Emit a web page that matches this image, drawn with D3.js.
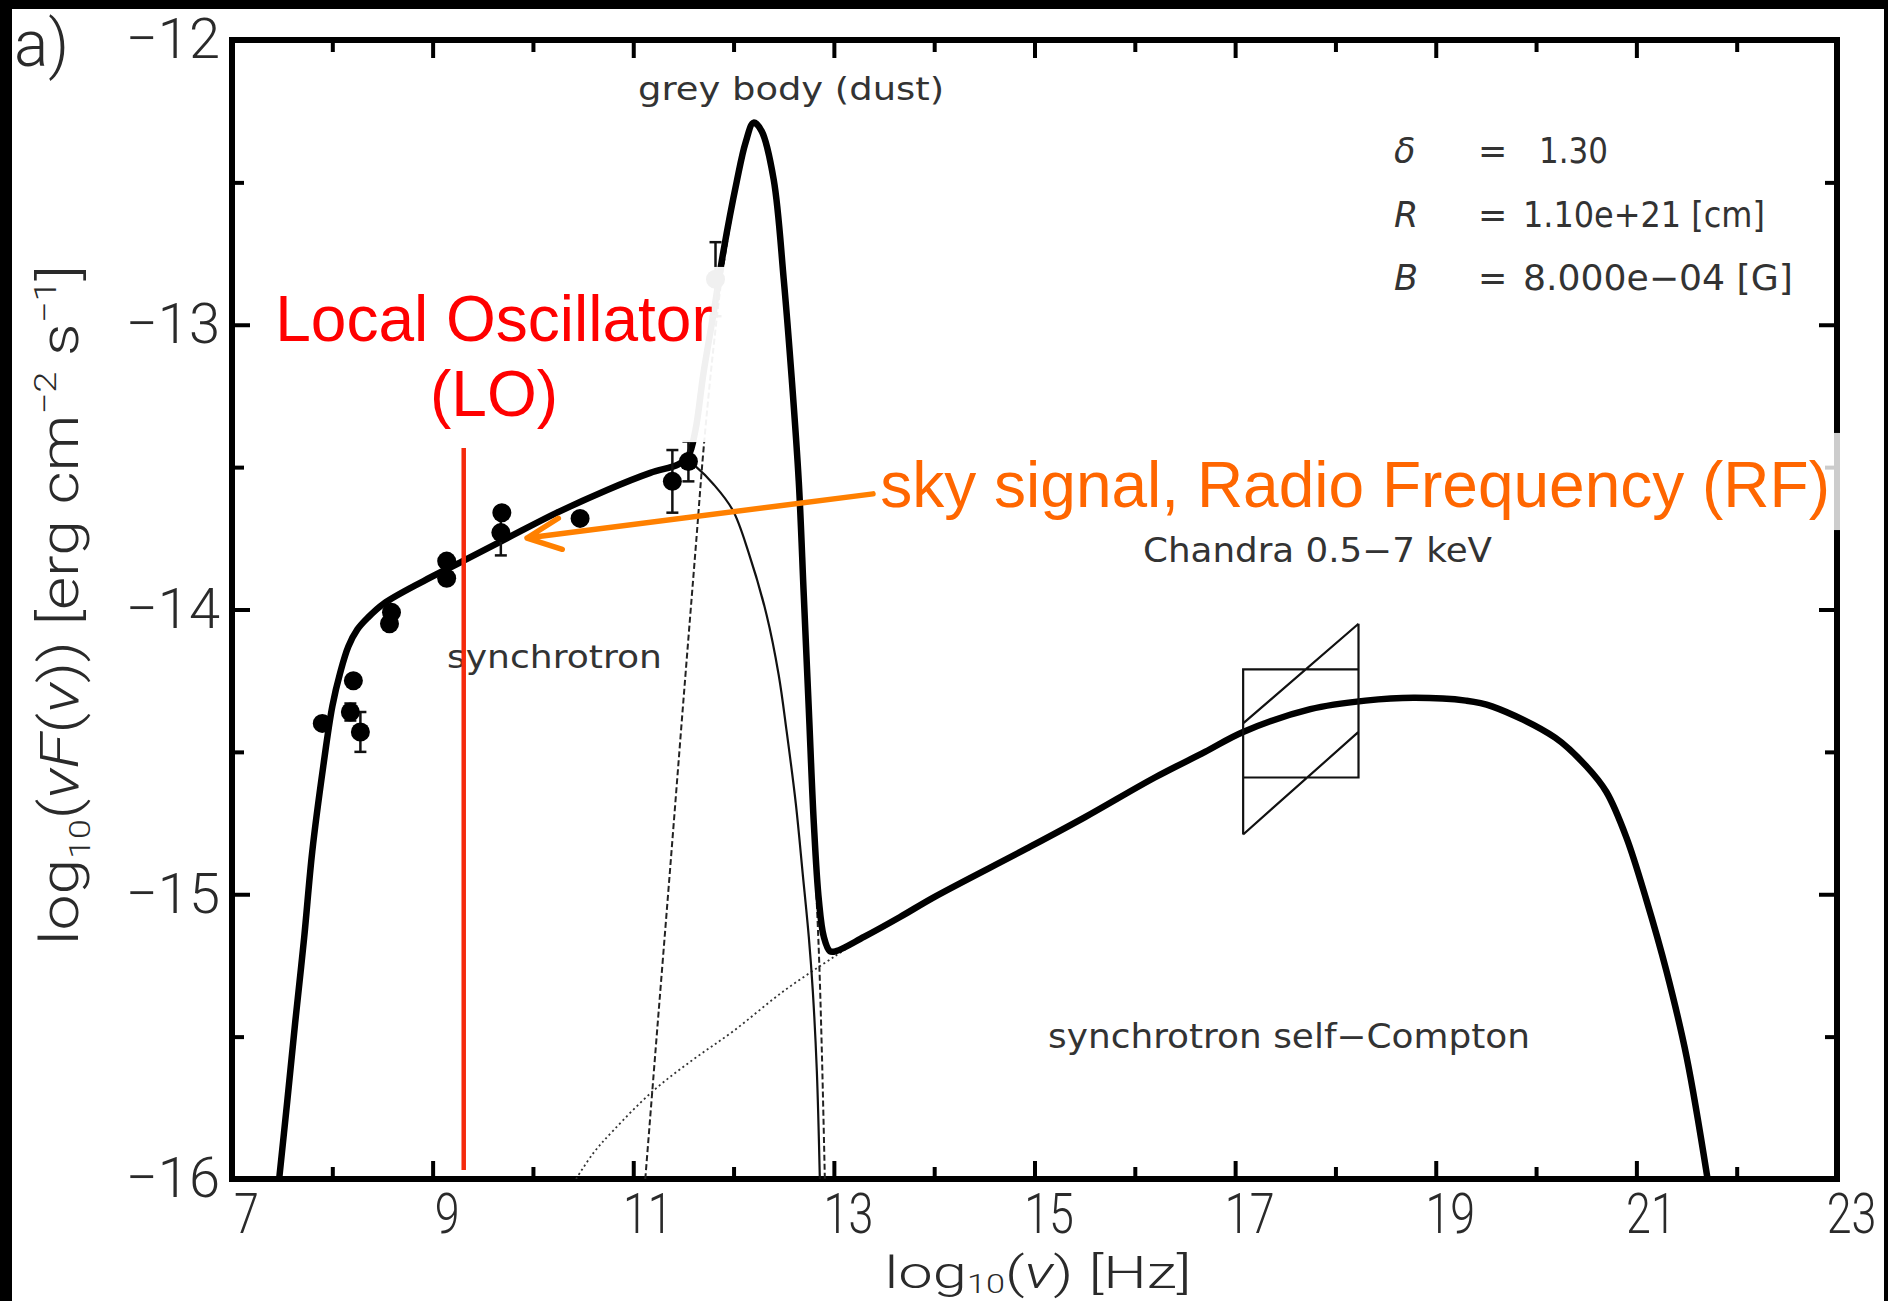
<!DOCTYPE html>
<html>
<head>
<meta charset="utf-8">
<title>SED</title>
<script src="https://cdnjs.cloudflare.com/ajax/libs/d3/7.8.5/d3.min.js"></script>
<style>
    body { margin: 0; background: #fff; }
    .axis text { font-family: Roboto, "Liberation Sans", sans-serif; font-weight: 300; font-size: 56px; fill: #2a2a2a; }
    .axis line { stroke: #000; stroke-width: 4; }
    .axis-title { font-family: Roboto, "Liberation Sans", sans-serif; font-weight: 300; fill: #2a2a2a; }
    .plot-label { font-family: "DejaVu Sans", sans-serif; fill: #333; }
    .slide-label { font-family: "Liberation Sans", Arial, sans-serif; font-size: 64px; }
</style>
</head>
<body>
<div id="sed-chart"></div>
<script>

// total model (thick line): log10(nu) and log10(nu F(nu))
var totalLogNu   = [7.47, 7.55, 7.63, 7.72, 7.80, 7.91, 8.00, 8.08, 8.16, 8.25, 8.35, 8.51, 8.91, 9.30, 9.74, 10.24, 10.74, 11.17, 11.45, 11.55, 11.62, 11.70, 11.80, 11.90, 12.03, 12.12, 12.20, 12.28, 12.40, 12.50, 12.58, 12.65, 12.70, 12.75, 12.80, 12.85, 12.90, 12.96, 13.02, 13.30, 13.66, 14.00, 14.92, 15.50, 16.20, 16.70, 17.08, 17.75, 18.30, 18.78, 19.30, 19.56, 20.19, 20.50, 20.70, 20.90, 21.10, 21.30, 21.50, 21.71];
var totalLogFlux = [-16.00, -15.73, -15.45, -15.15, -14.85, -14.55, -14.34, -14.22, -14.13, -14.07, -14.03, -13.98, -13.90, -13.83, -13.75, -13.66, -13.58, -13.52, -13.49, -13.46, -13.37, -13.17, -12.96, -12.74, -12.50, -12.36, -12.29, -12.32, -12.49, -12.84, -13.19, -13.55, -13.95, -14.35, -14.75, -15.02, -15.15, -15.20, -15.20, -15.15, -15.08, -15.01, -14.84, -14.73, -14.59, -14.50, -14.43, -14.35, -14.32, -14.31, -14.32, -14.34, -14.45, -14.55, -14.64, -14.80, -15.02, -15.27, -15.57, -16.00];

// synchrotron component (thin line)
var synchLogNu   = [7.47, 7.55, 7.63, 7.72, 7.80, 7.91, 8.00, 8.08, 8.16, 8.25, 8.35, 8.51, 8.91, 9.30, 9.74, 10.24, 10.74, 11.17, 11.45, 11.55, 11.63, 11.80, 11.99, 12.15, 12.33, 12.45, 12.53, 12.62, 12.69, 12.75, 12.79, 12.83, 12.86];
var synchLogFlux = [-16.00, -15.73, -15.45, -15.15, -14.85, -14.55, -14.34, -14.22, -14.13, -14.07, -14.03, -13.98, -13.90, -13.83, -13.75, -13.66, -13.58, -13.52, -13.49, -13.48, -13.50, -13.56, -13.65, -13.80, -14.02, -14.23, -14.43, -14.68, -14.93, -15.15, -15.34, -15.62, -16.00];

// grey body (dust) component (dashed)
var dustLogNu   = [11.12, 11.24, 11.37, 11.50, 11.63, 11.70, 11.80, 11.90, 12.03, 12.12, 12.20, 12.28, 12.40, 12.50, 12.58, 12.65, 12.70, 12.75, 12.80, 12.85, 12.88, 12.91];
var dustLogFlux = [-16.00, -15.47, -14.90, -14.32, -13.75, -13.44, -13.08, -12.79, -12.52, -12.37, -12.30, -12.33, -12.50, -12.85, -13.20, -13.56, -13.96, -14.37, -14.80, -15.20, -15.55, -16.00];

// synchrotron self-Compton component (dotted)
var sscLogNu   = [10.43, 10.60, 10.80, 11.20, 11.60, 12.00, 12.50, 13.00, 13.30];
var sscLogFlux = [-16.00, -15.91, -15.83, -15.69, -15.58, -15.48, -15.34, -15.22, -15.15];

// observed fluxes, with error (0 = no visible bar)
var obsLogNu   = [7.90, 8.18, 8.21, 8.28, 8.57, 8.59, 9.14, 9.14, 9.69, 9.68, 10.47, 11.39, 11.55, 11.82];
var obsLogFlux = [-14.40, -14.36, -14.25, -14.43, -14.05, -14.01, -13.83, -13.89, -13.66, -13.73, -13.68, -13.55, -13.48, -12.84];
var obsErr     = [0, 0.03, 0, 0.07, 0, 0, 0, 0, 0, 0.08, 0, 0.11, 0.07, 0.13];

// Chandra 0.5-7 keV bow tie
var chandraLogNu     = [17.08, 18.23];
var chandraBoxFlux   = [-14.59, -14.21];
var chandraUpperFlux = [-14.40, -14.05];
var chandraLowerFlux = [-14.79, -14.43];

// local oscillator frequency
var loLogNu = 9.31;

// ticks
var xMajorTicks = [7, 9, 11, 13, 15, 17, 19, 21, 23];
var xMinorTicks = [8, 10, 12, 14, 16, 18, 20, 22];
var yMajorTicks = [-16, -15, -14, -13, -12];
var yMinorTicks = [-15.5, -14.5, -13.5, -12.5];

var modelParams = [
    { sym: "δ", val: "1.30" },
    { sym: "R", val: "1.10e+21 [cm]" },
    { sym: "B", val: "8.000e−04 [G]" }
];


/*
 * SedChart - spectral energy distribution with slide annotations
 */

SedChart = function(_parentElement){
    this.parentElement = _parentElement;
    this.initVis();
}

SedChart.prototype.initVis = function(){
    var vis = this;

    vis.margin = { top: 40, right: 51, bottom: 122, left: 232 };
    vis.width = 1888 - vis.margin.left - vis.margin.right;
    vis.height = 1301 - vis.margin.top - vis.margin.bottom;

    vis.root = d3.select("#" + vis.parentElement).append("svg")
        .attr("width", 1888)
        .attr("height", 1301);

    // black edges of the screenshot
    vis.root.append("rect").attr("x", 0).attr("y", 0).attr("width", 1888).attr("height", 9);
    vis.root.append("rect").attr("x", 0).attr("y", 0).attr("width", 12).attr("height", 1301);
    vis.root.append("rect").attr("x", 1884).attr("y", 0).attr("width", 4).attr("height", 1301);

    vis.svg = vis.root.append("g")
        .attr("transform", "translate(" + vis.margin.left + "," + vis.margin.top + ")");

    vis.svg.append("defs").append("clipPath")
        .attr("id", "clip")
        .append("rect")
        .attr("width", vis.width)
        .attr("height", vis.height);

    vis.x = d3.scaleLinear().domain([7, 23]).range([0, vis.width]);
    vis.y = d3.scaleLinear().domain([-16, -12]).range([vis.height, 0]);

    vis.line = d3.line()
        .x(d => vis.x(d[0]))
        .y(d => vis.y(d[1]))
        .curve(d3.curveCatmullRom.alpha(0.5));

    vis.updateVis();
}

SedChart.prototype.updateVis = function(){
    var vis = this;

    var noDomain = g => g.select(".domain").remove();

    // Axes (ticks point inwards on all four sides)
    vis.svg.append("g")
        .attr("class", "axis x-axis")
        .attr("transform", "translate(0," + vis.height + ")")
        .call(d3.axisBottom(vis.x).tickValues(xMajorTicks).tickSize(-18).tickSizeOuter(0)
            .tickPadding(14).tickFormat(d3.format("d")))
        .call(noDomain);
    vis.svg.append("g")
        .attr("class", "axis")
        .attr("transform", "translate(0," + vis.height + ")")
        .call(d3.axisBottom(vis.x).tickValues(xMinorTicks).tickSize(-12).tickSizeOuter(0).tickFormat(""))
        .call(noDomain);
    vis.svg.append("g")
        .attr("class", "axis")
        .call(d3.axisTop(vis.x).tickValues(xMajorTicks).tickSize(-18).tickSizeOuter(0).tickFormat(""))
        .call(noDomain);
    vis.svg.append("g")
        .attr("class", "axis")
        .call(d3.axisTop(vis.x).tickValues(xMinorTicks).tickSize(-12).tickSizeOuter(0).tickFormat(""))
        .call(noDomain);

    vis.svg.append("g")
        .attr("class", "axis y-axis")
        .call(d3.axisLeft(vis.y).tickValues(yMajorTicks).tickSize(-18).tickSizeOuter(0)
            .tickPadding(12).tickFormat(d3.format("d")))
        .call(noDomain);
    vis.svg.append("g")
        .attr("class", "axis")
        .call(d3.axisLeft(vis.y).tickValues(yMinorTicks).tickSize(-12).tickSizeOuter(0).tickFormat(""))
        .call(noDomain);
    vis.svg.append("g")
        .attr("class", "axis")
        .attr("transform", "translate(" + vis.width + ",0)")
        .call(d3.axisRight(vis.y).tickValues(yMajorTicks).tickSize(-18).tickSizeOuter(0).tickFormat(""))
        .call(noDomain);
    vis.svg.append("g")
        .attr("class", "axis")
        .attr("transform", "translate(" + vis.width + ",0)")
        .call(d3.axisRight(vis.y).tickValues(yMinorTicks).tickSize(-12).tickSizeOuter(0).tickFormat(""))
        .call(noDomain);

    // narrower digits on the x axis, labels sit a bit right of the tick
    vis.svg.selectAll(".x-axis text")
        .attr("dx", 14)
        .each(function(){
            var w = this.getComputedTextLength();
            d3.select(this).attr("textLength", w * 0.8).attr("lengthAdjust", "spacingAndGlyphs");
        });

    vis.svg.append("rect")
        .attr("width", vis.width)
        .attr("height", vis.height)
        .attr("fill", "none")
        .attr("stroke", "#000")
        .attr("stroke-width", 6);

    // Model curves
    var curves = vis.svg.append("g").attr("clip-path", "url(#clip)");

    curves.append("path")
        .datum(d3.zip(sscLogNu, sscLogFlux))
        .attr("d", vis.line)
        .attr("fill", "none").attr("stroke", "#333").attr("stroke-width", 1.8)
        .attr("stroke-dasharray", "2,3");

    curves.append("path")
        .datum(d3.zip(dustLogNu, dustLogFlux))
        .attr("d", vis.line)
        .attr("fill", "none").attr("stroke", "#222").attr("stroke-width", 2)
        .attr("stroke-dasharray", "6,3");

    curves.append("path")
        .datum(d3.zip(synchLogNu, synchLogFlux))
        .attr("d", vis.line)
        .attr("fill", "none").attr("stroke", "#111").attr("stroke-width", 2.2);

    curves.append("path")
        .datum(d3.zip(totalLogNu, totalLogFlux))
        .attr("d", vis.line)
        .attr("fill", "none").attr("stroke", "#000").attr("stroke-width", 6.5)
        .attr("stroke-linejoin", "round");

    // Observations
    var obs = d3.range(obsLogNu.length).map(i => ({ nu: obsLogNu[i], f: obsLogFlux[i], e: obsErr[i] }));
    var withErr = obs.filter(d => d.e > 0);

    vis.svg.selectAll(".err-bar")
        .data(withErr)
        .enter().append("line")
        .attr("class", "err-bar")
        .attr("x1", d => vis.x(d.nu)).attr("x2", d => vis.x(d.nu))
        .attr("y1", d => vis.y(d.f - d.e)).attr("y2", d => vis.y(d.f + d.e))
        .attr("stroke", "#111").attr("stroke-width", 2.5);

    [-1, 1].forEach(function(s){
        vis.svg.selectAll(".err-cap" + s)
            .data(withErr)
            .enter().append("line")
            .attr("x1", d => vis.x(d.nu) - 6).attr("x2", d => vis.x(d.nu) + 6)
            .attr("y1", d => vis.y(d.f + s * d.e)).attr("y2", d => vis.y(d.f + s * d.e))
            .attr("stroke", "#111").attr("stroke-width", 2.5);
    });

    vis.svg.selectAll(".obs")
        .data(obs)
        .enter().append("circle")
        .attr("class", "obs")
        .attr("cx", d => vis.x(d.nu))
        .attr("cy", d => vis.y(d.f))
        .attr("r", 9.5)
        .attr("fill", "#000");

    // Chandra bow tie
    var cx0 = vis.x(chandraLogNu[0]), cx1 = vis.x(chandraLogNu[1]);
    var tie = d3.path();
    tie.rect(cx0, vis.y(chandraBoxFlux[1]), cx1 - cx0, vis.y(chandraBoxFlux[0]) - vis.y(chandraBoxFlux[1]));
    tie.moveTo(cx0, vis.y(chandraUpperFlux[0])); tie.lineTo(cx1, vis.y(chandraUpperFlux[1]));
    tie.moveTo(cx0, vis.y(chandraLowerFlux[0])); tie.lineTo(cx1, vis.y(chandraLowerFlux[1]));
    tie.moveTo(cx0, vis.y(chandraBoxFlux[1])); tie.lineTo(cx0, vis.y(chandraLowerFlux[0]));
    tie.moveTo(cx1, vis.y(chandraUpperFlux[1])); tie.lineTo(cx1, vis.y(chandraBoxFlux[0]));
    vis.svg.append("path")
        .attr("d", tie.toString())
        .attr("fill", "none").attr("stroke", "#111").attr("stroke-width", 2.2);

    // Labels inside the plot
    var label = function(txt, nu, f, len, size, anchor){
        return vis.svg.append("text")
            .attr("class", "plot-label")
            .attr("x", vis.x(nu)).attr("y", vis.y(f))
            .attr("font-size", size)
            .attr("text-anchor", anchor || "start")
            .attr("textLength", len).attr("lengthAdjust", "spacingAndGlyphs")
            .text(txt);
    };
    label("grey body (dust)", 12.573, -12.211, 306, 32, "middle");
    label("synchrotron", 9.143, -14.205, 215, 32);
    label("Chandra 0.5−7 keV", 16.082, -13.833, 349, 33);
    label("synchrotron self−Compton", 15.135, -15.540, 482, 33);

    var paramRows = [-12.432, -12.657, -12.878];
    var paramLen = [69, 242, 270];
    modelParams.forEach(function(p, i){
        vis.svg.append("text").attr("class", "plot-label")
            .attr("x", vis.x(18.584)).attr("y", vis.y(paramRows[i]))
            .attr("font-size", 35).attr("font-style", "italic")
            .text(p.sym);
        vis.svg.append("text").attr("class", "plot-label")
            .attr("x", vis.x(19.42)).attr("y", vis.y(paramRows[i]))
            .attr("font-size", 35)
            .text("=");
        vis.svg.append("text").attr("class", "plot-label")
            .attr("x", vis.x(i === 0 ? 20.029 : 19.869)).attr("y", vis.y(paramRows[i]))
            .attr("font-size", 35)
            .attr("textLength", paramLen[i]).attr("lengthAdjust", "spacingAndGlyphs")
            .text(p.val);
    });

    // Axis titles: squeezed horizontally to the reference width
    var squeeze = function(text, target){
        var w = text.node().getComputedTextLength();
        text.attr("transform", "scale(" + (target / w) + ",1)");
    };

    var xHolder = vis.root.append("g").attr("transform", "translate(1038,1288)");
    var xTitle = xHolder.append("text")
        .attr("class", "axis-title")
        .attr("text-anchor", "middle")
        .attr("font-size", 45);
    xTitle.append("tspan").text("log");
    xTitle.append("tspan").attr("font-size", 25).attr("dy", 5).text("10");
    xTitle.append("tspan").attr("dy", -5).text("(");
    xTitle.append("tspan").attr("font-style", "italic").text("ν");
    xTitle.append("tspan").text(") [Hz]");
    squeeze(xTitle, 307);

    var yHolder = vis.root.append("g").attr("transform", "translate(78,605) rotate(-90)");
    var yTitle = yHolder.append("text")
        .attr("class", "axis-title")
        .attr("text-anchor", "middle")
        .attr("font-size", 54);
    yTitle.append("tspan").text("log");
    yTitle.append("tspan").attr("font-size", 30).attr("dy", 12).text("10");
    yTitle.append("tspan").attr("dy", -12).text("(");
    yTitle.append("tspan").attr("font-style", "italic").text("νF");
    yTitle.append("tspan").text("(");
    yTitle.append("tspan").attr("font-style", "italic").text("ν");
    yTitle.append("tspan").text(")) [erg cm");
    yTitle.append("tspan").attr("font-size", 32).attr("dy", -22).text("−2");
    yTitle.append("tspan").attr("dy", 22).text(" s");
    yTitle.append("tspan").attr("font-size", 32).attr("dy", -22).text("−1");
    yTitle.append("tspan").attr("dy", 22).text("]");
    squeeze(yTitle, 680);

    vis.root.append("text")
        .attr("class", "axis-title")
        .attr("x", 14).attr("y", 66)
        .attr("font-size", 64)
        .text("a)");

    // Slide annotations: local oscillator
    vis.svg.append("line")
        .attr("x1", vis.x(loLogNu)).attr("x2", vis.x(loLogNu))
        .attr("y1", vis.y(-13.433)).attr("y2", vis.y(-15.968))
        .attr("stroke", "#f52a0c").attr("stroke-width", 4.5);

    vis.svg.append("rect")
        .attr("x", vis.x(7.379)).attr("y", vis.y(-12.797))
        .attr("width", vis.x(11.945) - vis.x(7.379))
        .attr("height", vis.y(-13.412) - vis.y(-12.797))
        .attr("fill", "#fff").attr("fill-opacity", 0.94);

    var loText = vis.svg.append("text")
        .attr("class", "slide-label")
        .attr("text-anchor", "middle")
        .attr("fill", "#ff0000");
    loText.append("tspan").attr("x", vis.x(9.612)).attr("y", vis.y(-13.0576)).text("Local Oscillator");
    loText.append("tspan").attr("x", vis.x(9.612)).attr("y", vis.y(-13.3205)).text("(LO)");

    // Slide annotations: sky signal
    vis.svg.append("rect")
        .attr("x", vis.x(13.44)).attr("y", vis.y(-13.380))
        .attr("width", vis.x(23.04) - vis.x(13.44))
        .attr("height", vis.y(-13.721) - vis.y(-13.380))
        .attr("fill", "#fff").attr("fill-opacity", 0.8);

    vis.svg.append("text")
        .attr("class", "slide-label")
        .attr("x", vis.x(22.93)).attr("y", vis.y(-13.640))
        .attr("text-anchor", "end")
        .attr("fill", "#ff6600")
        .text("sky signal, Radio Frequency (RF)");

    var tipX = vis.x(9.941), tipY = vis.y(-13.749);
    var tailX = vis.x(13.39), tailY = vis.y(-13.594);
    var ang = Math.atan2(tailY - tipY, tailX - tipX);
    var arm = 37, spread = 25 * Math.PI / 180;
    var arrow = d3.path();
    arrow.moveTo(tailX, tailY); arrow.lineTo(tipX, tipY);
    arrow.moveTo(tipX + arm * Math.cos(ang - spread), tipY + arm * Math.sin(ang - spread));
    arrow.lineTo(tipX, tipY);
    arrow.lineTo(tipX + arm * Math.cos(ang + spread), tipY + arm * Math.sin(ang + spread));
    vis.svg.append("path")
        .attr("d", arrow.toString())
        .attr("fill", "none")
        .attr("stroke", "#ff8000")
        .attr("stroke-width", 5.5)
        .attr("stroke-linecap", "round")
        .attr("stroke-linejoin", "round");
}

var sedChart = new SedChart("sed-chart");

</script>
</body>
</html>
